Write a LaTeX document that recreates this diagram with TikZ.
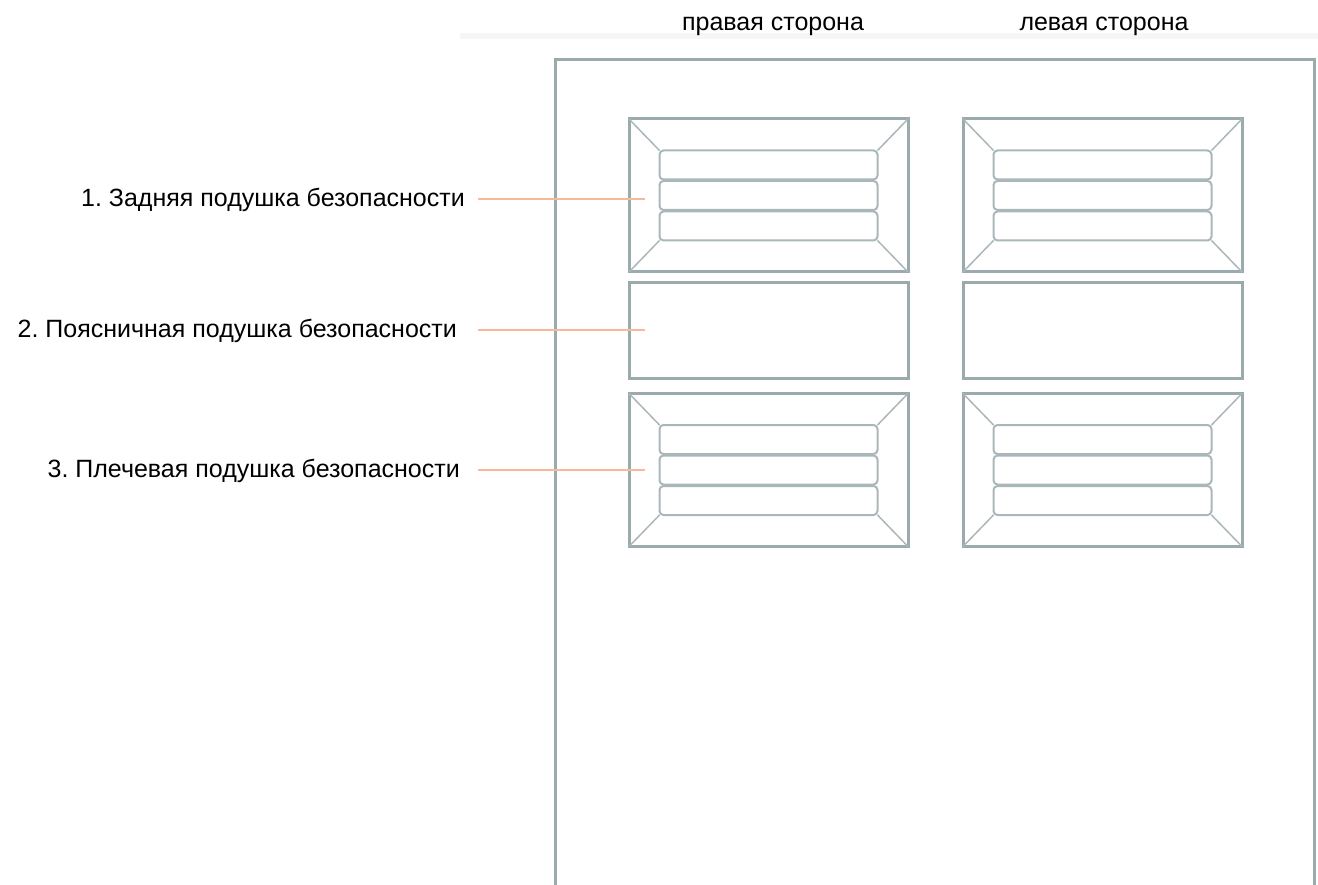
\documentclass[tikz,border=0pt]{standalone}
\usepackage{fontspec}
\setmainfont{Liberation Sans}
\frenchspacing
\definecolor{framegray}{HTML}{9AAAAD}
\definecolor{slatgray}{HTML}{AAB7BA}
\definecolor{leadcol}{HTML}{F8B89A}
\definecolor{bargray}{HTML}{F6F6F6}
\begin{document}
\begin{tikzpicture}[x=1pt, y=-1pt,
  every node/.style={font=\fontsize{25}{30}\selectfont, inner sep=0pt},
  frame/.style={draw=framegray, line width=3pt, inner sep=0pt, outer sep=0pt,
    minimum width=279pt, minimum height=153pt},
  pad/.style={frame, minimum height=96pt},
  slat/.style={draw=slatgray, line width=2pt, rounded corners=4pt, inner sep=0pt,
    outer sep=0pt, minimum width=218pt, minimum height=29pt},
  diag/.style={draw=slatgray, line width=1.5pt},
  leader/.style={draw=leadcol, line width=1.3pt}]
  \useasboundingbox (0,0) rectangle (1318,885);
  \fill[bargray] (460,33) rectangle (1318,39);
  \draw[framegray, line width=3pt] (555,885) -- (555,60) -- (1314,60) -- (1314,885);

  \node [anchor=base] (hR) at (773,31) {правая сторона};
  \node [anchor=base] (hL) at (1104,31) {левая сторона};

  % back and shoulder bags, both sides
  \foreach \side/\cx in {R/768.5, L/1102.5} {
    \foreach \row/\cy in {1/195.5, 3/470} {
      \node[frame] (\side\row) at (\cx,\cy) {};
      \node[slat] (\side\row a) at (\cx,\cy-30.5) {};
      \node[slat] (\side\row b) at (\cx,\cy) {};
      \node[slat] (\side\row c) at (\cx,\cy+30.5) {};
      \draw[diag] (\side\row.north west) -- (\side\row a.north west);
      \draw[diag] (\side\row.north east) -- (\side\row a.north east);
      \draw[diag] (\side\row.south west) -- (\side\row c.south west);
      \draw[diag] (\side\row.south east) -- (\side\row c.south east);
    }
    \node[pad] (\side2) at (\cx,331) {};
  }

  \node [anchor=base east] (l1) at (465,206.5) {1. Задняя подушка безопасности};
  \node [anchor=base east] (l2) at (457,337.5) {2. Поясничная подушка безопасности};
  \node [anchor=base east] (l3) at (460,477.5) {3. Плечевая подушка безопасности};
  \coordinate (p1) at (645,199);
  \coordinate (p2) at (645,330);
  \coordinate (p3) at (645,470);
  \draw[leader] (p1 -| l1.east) ++(13,0) -- (p1);
  \draw[leader] (p2 -| l2.east) ++(21,0) -- (p2);
  \draw[leader] (p3 -| l3.east) ++(18,0) -- (p3);
\end{tikzpicture}
\end{document}
